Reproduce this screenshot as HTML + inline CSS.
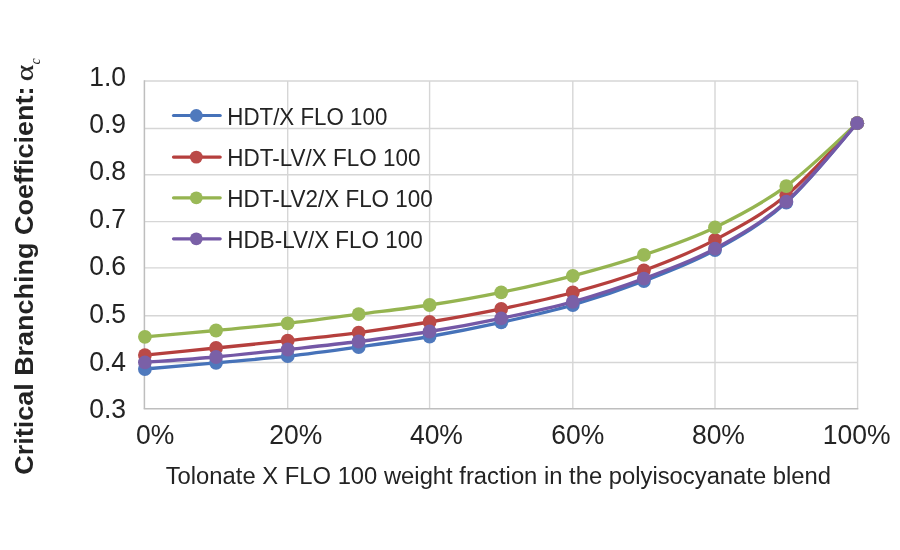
<!DOCTYPE html>
<html><head><meta charset="utf-8"><style>
html,body{margin:0;padding:0;background:#fff;}
body{width:900px;height:550px;overflow:hidden;}
svg{display:block;will-change:transform;}
text{font-family:"Liberation Sans",sans-serif;fill:#232323;}
.tick{font-size:26.5px;}
.leg{font-size:21.4px;}
.xt{font-size:22px;}
.yt{font-size:25.6px;font-weight:bold;}
.al{font-family:"Liberation Serif",serif;font-style:normal;font-size:23px;stroke:#1E1E1E;stroke-width:0.15px;}
.sub{font-family:"Liberation Serif",serif;font-style:italic;font-size:14px;}
</style></head><body>
<svg width="900" height="550" viewBox="0 0 900 550">
<line x1="144.4" y1="81.00" x2="857.6" y2="81.00" stroke="#D6D6D6" stroke-width="1.4"/>
<line x1="144.4" y1="128.50" x2="857.6" y2="128.50" stroke="#D6D6D6" stroke-width="1.4"/>
<line x1="144.4" y1="174.80" x2="857.6" y2="174.80" stroke="#D6D6D6" stroke-width="1.4"/>
<line x1="144.4" y1="221.60" x2="857.6" y2="221.60" stroke="#D6D6D6" stroke-width="1.4"/>
<line x1="144.4" y1="267.90" x2="857.6" y2="267.90" stroke="#D6D6D6" stroke-width="1.4"/>
<line x1="144.4" y1="315.80" x2="857.6" y2="315.80" stroke="#D6D6D6" stroke-width="1.4"/>
<line x1="144.4" y1="362.50" x2="857.6" y2="362.50" stroke="#D6D6D6" stroke-width="1.4"/>
<line x1="287.70" y1="81.0" x2="287.70" y2="408.7" stroke="#D6D6D6" stroke-width="1.4"/>
<line x1="429.60" y1="81.0" x2="429.60" y2="408.7" stroke="#D6D6D6" stroke-width="1.4"/>
<line x1="572.80" y1="81.0" x2="572.80" y2="408.7" stroke="#D6D6D6" stroke-width="1.4"/>
<line x1="715.00" y1="81.0" x2="715.00" y2="408.7" stroke="#D6D6D6" stroke-width="1.4"/>
<line x1="857.60" y1="81.0" x2="857.60" y2="408.7" stroke="#D6D6D6" stroke-width="1.4"/>
<line x1="144.40" y1="80.3" x2="144.40" y2="408.7" stroke="#BEBEBE" stroke-width="1.5"/>
<line x1="143.7" y1="408.70" x2="858.3" y2="408.70" stroke="#BEBEBE" stroke-width="1.6"/>
<path d="M144.90,369.00 C156.76,367.97 192.25,364.93 216.05,362.80 C239.85,360.67 263.93,358.83 287.70,356.20 C311.47,353.57 335.00,350.28 358.65,347.00 C382.30,343.72 405.84,340.60 429.60,336.50 C453.36,332.40 477.33,327.65 501.20,322.40 C525.07,317.15 549.02,311.90 572.80,305.00 C596.58,298.10 620.20,290.15 643.90,281.00 C667.60,271.85 691.27,263.18 715.00,250.10 C738.73,237.02 762.60,223.65 786.30,202.50 C810.00,181.35 845.38,136.42 857.20,123.20" fill="none" stroke="#4672B9" stroke-width="3.3" stroke-linejoin="round" stroke-linecap="round"/>
<circle cx="144.90" cy="369.00" r="6.9" fill="#4F79BD"/>
<circle cx="216.05" cy="362.80" r="6.9" fill="#4F79BD"/>
<circle cx="287.70" cy="356.20" r="6.9" fill="#4F79BD"/>
<circle cx="358.65" cy="347.00" r="6.9" fill="#4F79BD"/>
<circle cx="429.60" cy="336.50" r="6.9" fill="#4F79BD"/>
<circle cx="501.20" cy="322.40" r="6.9" fill="#4F79BD"/>
<circle cx="572.80" cy="305.00" r="6.9" fill="#4F79BD"/>
<circle cx="643.90" cy="281.00" r="6.9" fill="#4F79BD"/>
<circle cx="715.00" cy="250.10" r="6.9" fill="#4F79BD"/>
<circle cx="786.30" cy="202.50" r="6.9" fill="#4F79BD"/>
<circle cx="857.20" cy="123.20" r="6.9" fill="#4F79BD"/>
<path d="M144.90,355.10 C156.76,353.92 192.25,350.40 216.05,348.00 C239.85,345.60 263.93,343.27 287.70,340.70 C311.47,338.13 335.00,335.72 358.65,332.60 C382.30,329.48 405.84,325.95 429.60,322.00 C453.36,318.05 477.33,313.82 501.20,308.90 C525.07,303.98 549.02,298.90 572.80,292.50 C596.58,286.10 620.20,279.27 643.90,270.50 C667.60,261.73 691.27,252.43 715.00,239.90 C738.73,227.37 762.60,214.75 786.30,195.30 C810.00,175.85 845.38,135.22 857.20,123.20" fill="none" stroke="#B53F3D" stroke-width="3.3" stroke-linejoin="round" stroke-linecap="round"/>
<circle cx="144.90" cy="355.10" r="6.9" fill="#BA4A48"/>
<circle cx="216.05" cy="348.00" r="6.9" fill="#BA4A48"/>
<circle cx="287.70" cy="340.70" r="6.9" fill="#BA4A48"/>
<circle cx="358.65" cy="332.60" r="6.9" fill="#BA4A48"/>
<circle cx="429.60" cy="322.00" r="6.9" fill="#BA4A48"/>
<circle cx="501.20" cy="308.90" r="6.9" fill="#BA4A48"/>
<circle cx="572.80" cy="292.50" r="6.9" fill="#BA4A48"/>
<circle cx="643.90" cy="270.50" r="6.9" fill="#BA4A48"/>
<circle cx="715.00" cy="239.90" r="6.9" fill="#BA4A48"/>
<circle cx="786.30" cy="195.30" r="6.9" fill="#BA4A48"/>
<circle cx="857.20" cy="123.20" r="6.9" fill="#BA4A48"/>
<path d="M144.90,336.80 C156.76,335.75 192.25,332.75 216.05,330.50 C239.85,328.25 263.93,326.02 287.70,323.30 C311.47,320.58 335.00,317.25 358.65,314.20 C382.30,311.15 405.84,308.65 429.60,305.00 C453.36,301.35 477.33,297.17 501.20,292.30 C525.07,287.43 549.02,282.03 572.80,275.80 C596.58,269.57 620.20,262.97 643.90,254.90 C667.60,246.83 691.27,238.87 715.00,227.40 C738.73,215.93 762.60,203.47 786.30,186.10 C810.00,168.73 845.38,133.68 857.20,123.20" fill="none" stroke="#95B450" stroke-width="3.3" stroke-linejoin="round" stroke-linecap="round"/>
<circle cx="144.90" cy="336.80" r="6.9" fill="#9AB957"/>
<circle cx="216.05" cy="330.50" r="6.9" fill="#9AB957"/>
<circle cx="287.70" cy="323.30" r="6.9" fill="#9AB957"/>
<circle cx="358.65" cy="314.20" r="6.9" fill="#9AB957"/>
<circle cx="429.60" cy="305.00" r="6.9" fill="#9AB957"/>
<circle cx="501.20" cy="292.30" r="6.9" fill="#9AB957"/>
<circle cx="572.80" cy="275.80" r="6.9" fill="#9AB957"/>
<circle cx="643.90" cy="254.90" r="6.9" fill="#9AB957"/>
<circle cx="715.00" cy="227.40" r="6.9" fill="#9AB957"/>
<circle cx="786.30" cy="186.10" r="6.9" fill="#9AB957"/>
<circle cx="857.20" cy="123.20" r="6.9" fill="#9AB957"/>
<path d="M144.90,362.30 C156.76,361.42 192.25,359.13 216.05,357.00 C239.85,354.87 263.93,352.08 287.70,349.50 C311.47,346.92 335.00,344.50 358.65,341.50 C382.30,338.50 405.84,335.37 429.60,331.50 C453.36,327.63 477.33,323.25 501.20,318.30 C525.07,313.35 549.02,308.42 572.80,301.80 C596.58,295.18 620.20,287.45 643.90,278.60 C667.60,269.75 691.27,261.53 715.00,248.70 C738.73,235.87 762.60,222.52 786.30,201.60 C810.00,180.68 845.38,136.27 857.20,123.20" fill="none" stroke="#7458A6" stroke-width="3.3" stroke-linejoin="round" stroke-linecap="round"/>
<circle cx="144.90" cy="362.30" r="6.9" fill="#7A60A7"/>
<circle cx="216.05" cy="357.00" r="6.9" fill="#7A60A7"/>
<circle cx="287.70" cy="349.50" r="6.9" fill="#7A60A7"/>
<circle cx="358.65" cy="341.50" r="6.9" fill="#7A60A7"/>
<circle cx="429.60" cy="331.50" r="6.9" fill="#7A60A7"/>
<circle cx="501.20" cy="318.30" r="6.9" fill="#7A60A7"/>
<circle cx="572.80" cy="301.80" r="6.9" fill="#7A60A7"/>
<circle cx="643.90" cy="278.60" r="6.9" fill="#7A60A7"/>
<circle cx="715.00" cy="248.70" r="6.9" fill="#7A60A7"/>
<circle cx="786.30" cy="201.60" r="6.9" fill="#7A60A7"/>
<circle cx="857.20" cy="123.20" r="6.9" fill="#7A60A7"/>
<line x1="173.5" y1="115.5" x2="220.2" y2="115.5" stroke="#4672B9" stroke-width="3.2" stroke-linecap="round"/>
<circle cx="196.3" cy="115.5" r="6.4" fill="#4F79BD"/>
<text transform="translate(227.3,124.50) scale(1,1.09)" class="leg" textLength="160.0" lengthAdjust="spacingAndGlyphs">HDT/X FLO 100</text>
<line x1="173.5" y1="157.1" x2="220.2" y2="157.1" stroke="#B53F3D" stroke-width="3.2" stroke-linecap="round"/>
<circle cx="196.3" cy="157.1" r="6.4" fill="#BA4A48"/>
<text transform="translate(227.3,166.10) scale(1,1.09)" class="leg" textLength="193.1" lengthAdjust="spacingAndGlyphs">HDT-LV/X FLO 100</text>
<line x1="173.5" y1="197.8" x2="220.2" y2="197.8" stroke="#95B450" stroke-width="3.2" stroke-linecap="round"/>
<circle cx="196.3" cy="197.8" r="6.4" fill="#9AB957"/>
<text transform="translate(227.3,206.80) scale(1,1.09)" class="leg" textLength="205.5" lengthAdjust="spacingAndGlyphs">HDT-LV2/X FLO 100</text>
<line x1="173.5" y1="238.8" x2="220.2" y2="238.8" stroke="#7458A6" stroke-width="3.2" stroke-linecap="round"/>
<circle cx="196.3" cy="238.8" r="6.4" fill="#7A60A7"/>
<text transform="translate(227.3,247.80) scale(1,1.09)" class="leg" textLength="195.4" lengthAdjust="spacingAndGlyphs">HDB-LV/X FLO 100</text>
<text transform="translate(126,85.60) scale(1,1.06)" class="tick" text-anchor="end">1.0</text>
<text transform="translate(126,132.80) scale(1,1.06)" class="tick" text-anchor="end">0.9</text>
<text transform="translate(126,180.45) scale(1,1.06)" class="tick" text-anchor="end">0.8</text>
<text transform="translate(126,228.20) scale(1,1.06)" class="tick" text-anchor="end">0.7</text>
<text transform="translate(126,275.40) scale(1,1.06)" class="tick" text-anchor="end">0.6</text>
<text transform="translate(126,323.20) scale(1,1.06)" class="tick" text-anchor="end">0.5</text>
<text transform="translate(126,370.55) scale(1,1.06)" class="tick" text-anchor="end">0.4</text>
<text transform="translate(126,417.90) scale(1,1.06)" class="tick" text-anchor="end">0.3</text>
<text transform="translate(155.15,443.6) scale(1,1.06)" class="tick" text-anchor="middle">0%</text>
<text transform="translate(295.80,443.6) scale(1,1.06)" class="tick" text-anchor="middle">20%</text>
<text transform="translate(436.40,443.6) scale(1,1.06)" class="tick" text-anchor="middle">40%</text>
<text transform="translate(577.70,443.6) scale(1,1.06)" class="tick" text-anchor="middle">60%</text>
<text transform="translate(718.40,443.6) scale(1,1.06)" class="tick" text-anchor="middle">80%</text>
<text transform="translate(856.60,443.6) scale(1,1.06)" class="tick" text-anchor="middle">100%</text>
<text transform="translate(165.7,484.2) scale(1,1.09)" class="xt" textLength="665.3" lengthAdjust="spacingAndGlyphs">Tolonate X FLO 100 weight fraction in the polyisocyanate blend</text>
<text transform="translate(33.3,474.8) rotate(-90) scale(1,1.03)" class="yt" textLength="388.2" lengthAdjust="spacingAndGlyphs">Critical Branching Coefficient:</text>
<text transform="translate(33.4,81.2) rotate(-90) scale(1.36,1.1)" class="al">&#945;</text>
<text transform="translate(39.5,64.5) rotate(-90)" class="sub">c</text>
</svg>
</body></html>
